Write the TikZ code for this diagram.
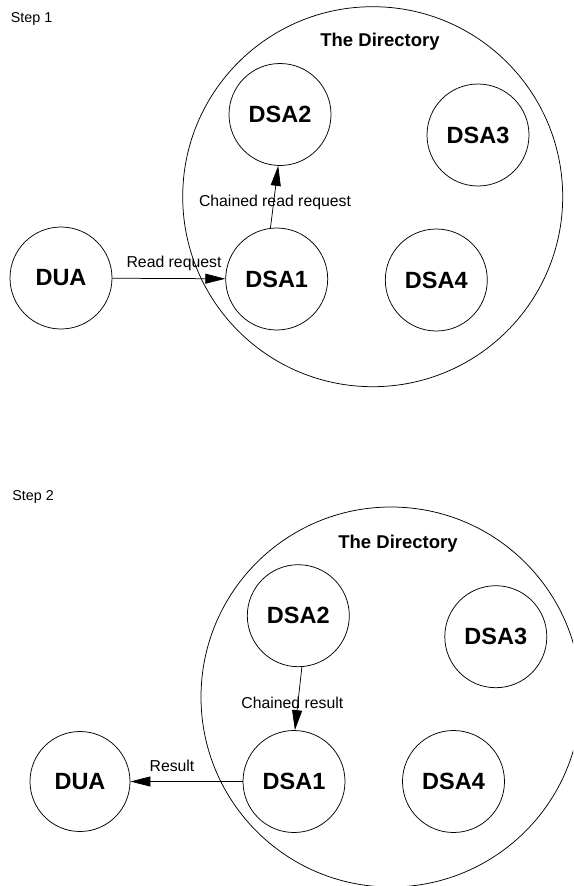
\documentclass[tikz,border=0pt]{standalone}
\usepackage{fontspec}
\setmainfont{Liberation Sans}
\usetikzlibrary{arrows.meta}
\begin{document}
\begin{tikzpicture}[x=1pt,y=-1pt,
  line width=0.75pt,
  agent/.style={draw,circle,minimum size=102pt,inner sep=0pt,
    font=\fontsize{23.5}{26}\selectfont\bfseries},
  realm/.style={draw,circle,minimum size=380pt,inner sep=0pt},
  realmname/.style={anchor=base,inner sep=0pt,font=\fontsize{18.5}{21}\selectfont\bfseries},
  msg/.style={anchor=base,inner sep=0pt,font=\fontsize{15.8}{18}\selectfont},
  steptitle/.style={anchor=base west,inner sep=0pt,font=\fontsize{14.3}{16}\selectfont},
  flow/.style={draw,-{Triangle[length=20pt,width=10pt]}}]
\useasboundingbox (0,0) rectangle (573,886);
\begin{scope}
\clip (0,0) rectangle (573,886);

% ---- Step 1: the read request is chained from DSA1 to DSA2 ----
\node[steptitle] (s1) at (10.5,22.7) {Step 1};
\node[realm] (dirA) at (372.7,196.7) {};
\node[realmname] (dirAname) at (380,46.7) {The Directory};
\node[agent] (duaA) at (61,278) {DUA};
\node[agent] (dsaA1) at (276.7,279) {DSA1};
\node[agent] (dsaA2) at (280,114.5) {DSA2};
\node[agent] (dsaA3) at (478,135) {DSA3};
\node[agent] (dsaA4) at (436.3,280) {DSA4};
\draw[flow] (duaA) -- (dsaA1);
\draw[flow] (dsaA1.97) -- (dsaA2.268);
\node[msg] (rdreq) at (174,267.3) {Read request};
\node[msg] (chreq) at (275,206.7) {Chained read request};

% ---- Step 2: the result travels back to the DUA ----
\node[steptitle] (s2) at (12,500.7) {Step 2};
\node[realm] (dirB) at (391,697) {};
\node[realmname] (dirBname) at (398,548.3) {The Directory};
\node[agent,minimum size=100pt] (duaB) at (80,781.5) {DUA};
\node[agent] (dsaB1) at (294,781.5) {DSA1};
\node[agent] (dsaB2) at (298.3,615.7) {DSA2};
\node[agent] (dsaB3) at (495.8,636.7) {DSA3};
\node[agent] (dsaB4) at (453.5,781.5) {DSA4};
\draw[flow] (dsaB2.274) -- (dsaB1.89);
\draw[flow] (dsaB1) -- (duaB);
\node[msg] (chres) at (292.3,708.3) {Chained result};
\node[msg] (res) at (172,771.7) {Result};
\end{scope}
\end{tikzpicture}
\end{document}
